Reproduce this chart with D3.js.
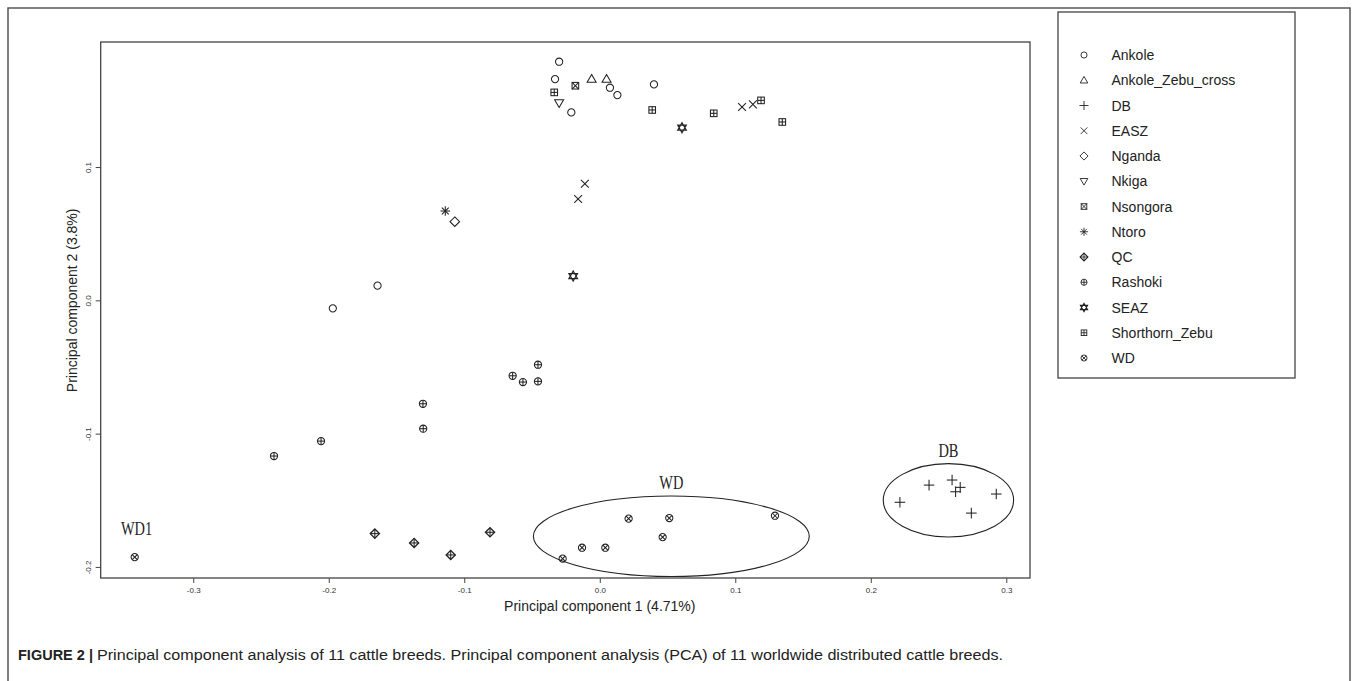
<!DOCTYPE html>
<html>
<head>
<meta charset="utf-8">
<script src="https://cdn.jsdelivr.net/npm/d3@7"></script>
<style>
  html, body { margin: 0; padding: 0; background: #fff; }
  svg { display: block; }
</style>
</head>
<body>
<svg id="chart" width="1358" height="681"></svg>
<script>
// ---------------- DATA (PC1, PC2) ----------------
const breedNames = ["Ankole","Ankole_Zebu_cross","DB","EASZ","Nganda","Nkiga","Nsongora","Ntoro","QC","Rashoki","SEAZ","Shorthorn_Zebu","WD"];
const Ankole = [[-0.030,0.179],[-0.033,0.166],[0.0075,0.1595],[0.013,0.154],[-0.021,0.141],[0.040,0.162],[-0.164,0.011],[-0.197,-0.006]];
const Ankole_Zebu_cross = [[-0.006,0.166],[0.005,0.166]];
const DB = [[0.243,-0.1386],[0.260,-0.1348],[0.266,-0.1403],[0.2626,-0.1436],[0.2215,-0.1515],[0.2926,-0.1453],[0.2742,-0.1596]];
const EASZ = [[0.105,0.145],[0.113,0.147],[-0.011,0.0875],[-0.016,0.076]];
const Nganda = [[-0.107,0.059]];
const Nkiga = [[-0.030,0.148]];
const Nsongora = [[-0.018,0.161]];
const Ntoro = [[-0.114,0.067]];
const QC = [[-0.166,-0.175],[-0.137,-0.182],[-0.110,-0.191],[-0.081,-0.174]];
const Rashoki = [[-0.0456,-0.0483],[-0.0643,-0.0566],[-0.0567,-0.0613],[-0.0456,-0.0608],[-0.1305,-0.0776],[-0.1303,-0.0963],[-0.2404,-0.1168],[-0.2057,-0.1056]];
const SEAZ = [[0.0607,0.1295],[-0.0196,0.0182]];
const Shorthorn_Zebu = [[-0.0336,0.156],[0.0387,0.1428],[0.0841,0.1403],[0.119,0.150],[0.1347,0.1338]];
const WD = [[-0.3432,-0.1926],[-0.0274,-0.1938],[-0.0131,-0.1856],[0.0041,-0.1856],[0.0213,-0.1638],[0.0513,-0.1633],[0.0464,-0.1776],[0.1293,-0.1616]];
const breedPoints = [Ankole,Ankole_Zebu_cross,DB,EASZ,Nganda,Nkiga,Nsongora,Ntoro,QC,Rashoki,SEAZ,Shorthorn_Zebu,WD];

const xTicks = [-0.3,-0.2,-0.1,0.0,0.1,0.2,0.3];
const yTicks = [0.1,0.0,-0.1,-0.2];
const xTickLabels = ["-0.3","-0.2","-0.1","0.0","0.1","0.2","0.3"];
const yTickLabels = ["0.1","0.0","-0.1","-0.2"];

// Cluster ellipses
const ellipseLabels = ["WD","DB"];
const ellipseCenters = [[0.0528,-0.177],[0.2573,-0.150]];
const ellipseRadii = [[0.1018,0.0302],[0.0481,0.0275]];
const pointLabel = ["WD1", -0.3418, -0.1717];

const captionBold = "FIGURE 2 |";
const captionText = "Principal component analysis of 11 cattle breeds. Principal component analysis (PCA) of 11 worldwide distributed cattle breeds.";

// ---------------- LAYOUT ----------------
const svg = d3.select("#chart");
const L = 100.7, R = 1030, T = 42, B = 578;
const x = d3.scaleLinear().domain([-0.3683, 0.3175]).range([L, R]);
const y = d3.scaleLinear().domain([-0.2083, 0.1938]).range([B, T]);
const ink = "#222";

// outer figure frame
svg.append("path")
  .attr("d", "M8,700 L8,8 L1350,8 L1350,700")
  .attr("fill","none").attr("stroke","#555").attr("stroke-width",1.5);

// plot box
svg.append("rect").attr("x",L).attr("y",T).attr("width",R-L).attr("height",B-T)
  .attr("fill","none").attr("stroke","#444").attr("stroke-width",1.3);

// axes
const xAxis = d3.axisBottom(x).tickValues(xTicks).tickSize(5).tickFormat((d,i)=>xTickLabels[i]);
const gx = svg.append("g").attr("transform",`translate(0,${B})`).call(xAxis);
gx.select(".domain").remove();
gx.selectAll("line").attr("stroke","#444");
gx.selectAll("text").attr("font-family","Liberation Sans, Arial, sans-serif").attr("font-size",8).attr("fill","#333").attr("dy","0.85em");

const yAxis = d3.axisLeft(y).tickValues(yTicks).tickSize(5).tickFormat((d,i)=>yTickLabels[i]);
const gy = svg.append("g").attr("transform",`translate(${L},0)`).call(yAxis);
gy.select(".domain").remove();
gy.selectAll("line").attr("stroke","#444");
gy.selectAll("text")
  .attr("font-family","Liberation Sans, Arial, sans-serif").attr("font-size",8).attr("fill","#333")
  .attr("x",null).attr("dy",null)
  .attr("text-anchor","middle")
  .attr("transform","translate(-10,0) rotate(-90)");

// axis titles
svg.append("text").attr("x",x(0)).attr("y",611).attr("text-anchor","middle")
  .attr("font-family","Liberation Sans, Arial, sans-serif").attr("font-size",14).attr("fill",ink)
  .text("Principal component 1 (4.71%)");
svg.append("text").attr("transform",`translate(77,${y(0)}) rotate(-90)`).attr("text-anchor","middle")
  .attr("font-family","Liberation Sans, Arial, sans-serif").attr("font-size",14).attr("fill",ink)
  .text("Principal component 2 (3.8%)");

// ---------------- SYMBOLS (R pch 1..13) ----------------
function drawSymbol(g, idx) {
  const st = {fill:"none", stroke:ink, "stroke-width":1.05};
  const add = (tag, attrs) => { const e = g.append(tag); Object.entries({...st,...attrs}).forEach(([k,v])=>e.attr(k,v)); return e; };
  const line = (x1,y1,x2,y2) => add("line",{x1,y1,x2,y2});
  const tri = (s, up) => { const h = up ? 1 : -1;
    return add("path",{d:`M0,${-h*s*1.05}L${s*1.05},${h*s*0.75}L${-s*1.05},${h*s*0.75}Z`}); };
  switch (idx) {
    case 0: add("circle",{r:3.6}); break;
    case 1: tri(4.3, true); break;
    case 2: line(-5.3,0,5.3,0); line(0,-5.3,0,5.3); break;
    case 3: line(-3.9,-3.9,3.9,3.9); line(-3.9,3.9,3.9,-3.9); break;
    case 4: add("path",{d:"M0,-4.8L4.8,0L0,4.8L-4.8,0Z"}); break;
    case 5: tri(4.3, false); break;
    case 6: add("rect",{x:-3.3,y:-3.3,width:6.6,height:6.6}); line(-3.3,-3.3,3.3,3.3); line(-3.3,3.3,3.3,-3.3); break;
    case 7: line(-4.8,0,4.8,0); line(0,-4.8,0,4.8); line(-3.4,-3.4,3.4,3.4); line(-3.4,3.4,3.4,-3.4); break;
    case 8: add("path",{d:"M0,-4.6L4.6,0L0,4.6L-4.6,0Z","stroke-width":1.3}); line(-4.6,0,4.6,0); line(0,-4.6,0,4.6); break;
    case 9: add("circle",{r:3.6}); line(-3.6,0,3.6,0); line(0,-3.6,0,3.6); break;
    case 10: add("path",{d:"M0,-5L4.3,2.5L-4.3,2.5Z M0,5L4.3,-2.5L-4.3,-2.5Z","stroke-width":1.2}); break;
    case 11: add("rect",{x:-3.3,y:-3.3,width:6.6,height:6.6}); line(-3.3,0,3.3,0); line(0,-3.3,0,3.3); break;
    case 12: add("circle",{r:3.6}); line(-2.5,-2.5,2.5,2.5); line(-2.5,2.5,2.5,-2.5); break;
  }
}

// ellipses
ellipseLabels.forEach((lab,i) => {
  const [cx,cy] = ellipseCenters[i], [rx,ry] = ellipseRadii[i];
  svg.append("ellipse")
    .attr("cx",x(cx)).attr("cy",y(cy))
    .attr("rx",x(cx+rx)-x(cx)).attr("ry",y(cy-ry)-y(cy))
    .attr("fill","none").attr("stroke",ink).attr("stroke-width",1.1);
  svg.append("text").attr("x",x(cx)).attr("y",y(cy+ry)-7).attr("text-anchor","middle")
    .attr("font-family","Liberation Serif, Times New Roman, serif").attr("font-size",18).attr("fill",ink)
    .attr("transform",`translate(${x(cx)},0) scale(0.8,1) translate(${-x(cx)},0)`)
    .text(lab);
});
svg.append("text").attr("x",x(pointLabel[1])).attr("y",y(pointLabel[2])+6).attr("text-anchor","middle")
  .attr("font-family","Liberation Serif, Times New Roman, serif").attr("font-size",18).attr("fill",ink)
  .attr("transform",`translate(${x(pointLabel[1])},0) scale(0.8,1) translate(${-x(pointLabel[1])},0)`)
  .text(pointLabel[0]);

// points
breedPoints.forEach((pts, i) => {
  pts.forEach(p => {
    const g = svg.append("g").attr("transform",`translate(${x(p[0])},${y(p[1])})`);
    drawSymbol(g, i);
  });
});

// ---------------- LEGEND ----------------
svg.append("rect").attr("x",1058).attr("y",12).attr("width",237).attr("height",366)
  .attr("fill","#fff").attr("stroke","#444").attr("stroke-width",1.3);
breedNames.forEach((name,i) => {
  const yy = 55 + i*25.25;
  const g = svg.append("g").attr("transform",`translate(1084,${yy}) scale(0.85)`);
  drawSymbol(g, i);
  svg.append("text").attr("x",1111.5).attr("y",yy+5)
    .attr("font-family","Liberation Sans, Arial, sans-serif").attr("font-size",14).attr("fill",ink)
    .text(name);
});

// ---------------- CAPTION ----------------
svg.append("text").attr("x",18).attr("y",660)
  .attr("font-family","Liberation Sans, Arial, sans-serif").attr("font-size",14.5).attr("font-weight","bold").attr("fill","#222")
  .text(captionBold);
svg.append("text").attr("x",97).attr("y",660)
  .attr("font-family","Liberation Sans, Arial, sans-serif").attr("font-size",15.5).attr("fill","#222")
  .attr("textLength",906).attr("lengthAdjust","spacingAndGlyphs")
  .text(captionText);
</script>
</body>
</html>
